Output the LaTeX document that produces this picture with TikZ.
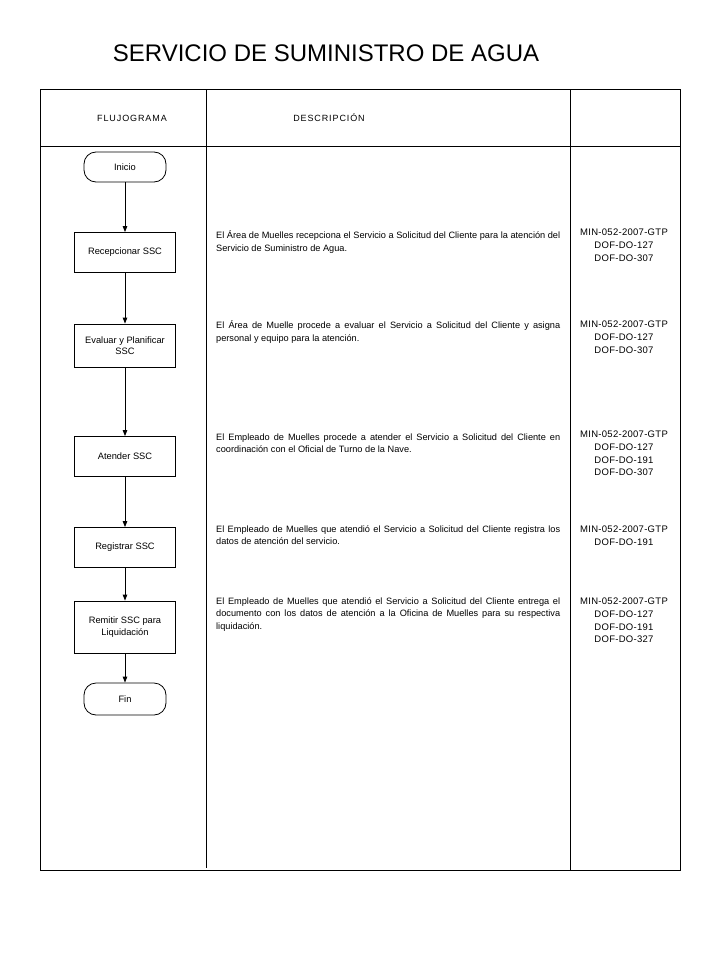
\documentclass[tikz,border=0pt]{standalone}
\usepackage{fontspec}
\setmainfont{Liberation Sans}
\newfontfamily\hdrfont[LetterSpace=10]{Liberation Sans}
\newfontfamily\reffont[LetterSpace=3]{Liberation Sans}
\usetikzlibrary{arrows.meta}
\begin{document}
\begin{tikzpicture}[x=1pt,y=-1pt,
  frame/.style={line width=1pt},
  procbox/.style={draw,line width=0.8pt,minimum width=101pt,minimum height=40pt,inner sep=1pt,align=center,font=\fontsize{9.3}{11.5}\selectfont},
  termbox/.style={draw,line width=0.8pt,rounded corners=12pt,minimum width=82pt,minimum height=30pt,inner sep=1pt,align=center,font=\fontsize{9.3}{11.5}\selectfont},
  arr/.style={line width=1pt,-{Triangle[width=4.5pt,length=6pt]}},
  desc/.style={anchor=north west,text width=344pt,align=justify,inner sep=0pt,font=\fontsize{9.2}{12.5}\selectfont},
  refs/.style={anchor=north,align=center,inner sep=0pt,font=\reffont\fontsize{9.5}{12.6}\selectfont},
  hdr/.style={font=\hdrfont\fontsize{9}{11}\selectfont}]
\useasboundingbox (0,0) rectangle (720,960);
\fill[white] (0,0) rectangle (720,960);
% title
\node[font=\fontsize{24}{28}\selectfont] (title) at (326,53) {SERVICIO DE SUMINISTRO DE AGUA};
% frame
\draw[frame] (40,90) rectangle (680,870);
\draw[frame] (40,147) -- (680,147);
\draw[frame] (206,90) -- (206,868);
\draw[frame] (570,90) -- (570,870);
\node[hdr] (h1) at (132,118) {FLUJOGRAMA};
\node[hdr] (h2) at (329,118) {DESCRIPCIÓN};
% flowchart
\node[termbox] (inicio) at (125,167) {Inicio};
\node[procbox] (recep) at (125,252.5) {Recepcionar SSC};
\node[procbox,minimum height=43pt] (eval) at (125,345.5) {Evaluar y Planificar\\SSC};
\node[procbox] (aten) at (125,456.5) {Atender SSC};
\node[procbox] (regi) at (125,547.5) {Registrar SSC};
\node[procbox,minimum height=52pt] (remi) at (125,627) {Remitir SSC para\\Liquidación};
\node[termbox,minimum height=32pt] (fin) at (125,699) {Fin};
\draw[arr] (inicio) -- (recep);
\draw[arr] (recep) -- (eval);
\draw[arr] (eval) -- (aten);
\draw[arr] (aten) -- (regi);
\draw[arr] (regi) -- (remi);
\draw[arr] (remi) -- (fin);
% descriptions
\node[desc] (d1) at (216,230.5) {El Área de Muelles recepciona el Servicio a Solicitud del Cliente para la atención del\linebreak Servicio de Suministro de Agua.};
\node[desc] (d2) at (216,320.5) {El Área de Muelle procede a evaluar el Servicio a Solicitud del Cliente y asigna\linebreak personal y equipo para la atención.};
\node[desc] (d3) at (216,433.5) {El Empleado de Muelles procede a atender el Servicio a Solicitud del Cliente en\linebreak coordinación con el Oficial de Turno de la Nave.};
\node[desc] (d4) at (216,525.5) {El Empleado de Muelles que atendió el Servicio a Solicitud del Cliente registra los\linebreak datos de atención del servicio.};
\node[desc] (d5) at (216,597.5) {El Empleado de Muelles que atendió el Servicio a Solicitud del Cliente entrega el\linebreak documento con los datos de atención a la Oficina de Muelles para su respectiva\linebreak liquidación.};
% references
\node[refs] (r1) at (624,229) {MIN-052-2007-GTP\\DOF-DO-127\\DOF-DO-307};
\node[refs] (r2) at (624,321) {MIN-052-2007-GTP\\DOF-DO-127\\DOF-DO-307};
\node[refs] (r3) at (624,431) {MIN-052-2007-GTP\\DOF-DO-127\\DOF-DO-191\\DOF-DO-307};
\node[refs] (r4) at (624,526) {MIN-052-2007-GTP\\DOF-DO-191};
\node[refs] (r5) at (624,598) {MIN-052-2007-GTP\\DOF-DO-127\\DOF-DO-191\\DOF-DO-327};
\end{tikzpicture}
\end{document}
